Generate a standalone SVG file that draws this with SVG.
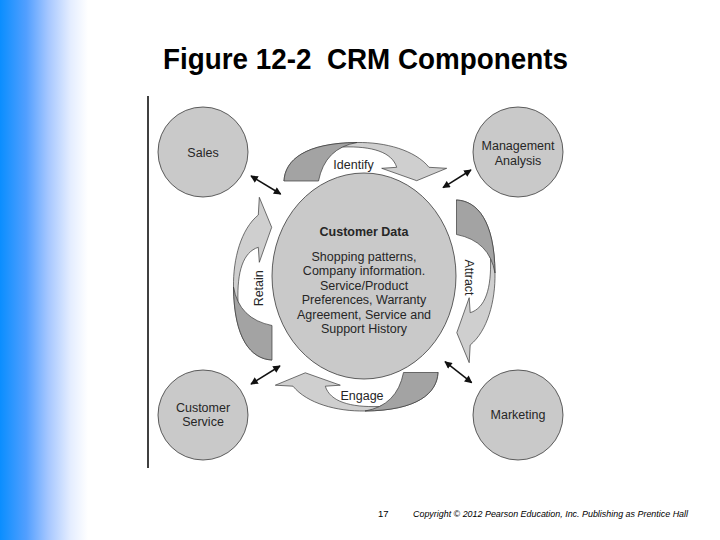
<svg xmlns="http://www.w3.org/2000/svg" xmlns:xlink="http://www.w3.org/1999/xlink" width="720" height="540" viewBox="0 0 720 540">
<style>
.node{fill:#c9c9c9;stroke:#3a3a3a;stroke-width:0.8}
.lbl{font-family:"Liberation Sans",Arial,sans-serif;font-size:12.5px;fill:#262626;text-anchor:middle}
.light{fill:#cfcfcf;stroke:#3a3a3a;stroke-width:0.7;stroke-linejoin:round}
.dark{fill:#a3a3a3;stroke:#3a3a3a;stroke-width:0.7;stroke-linejoin:round}
.dbl{stroke:#111;stroke-width:1.5;fill:none;marker-start:url(#ah);marker-end:url(#ah)}
</style>
<defs>
<linearGradient id="bar" gradientUnits="userSpaceOnUse" x1="0" y1="0" x2="88" y2="0">
<stop offset="0" stop-color="#0a8eff"/>
<stop offset="0.3" stop-color="#529fff"/>
<stop offset="0.55" stop-color="#a6c7ff"/>
<stop offset="0.8" stop-color="#e4edff"/>
<stop offset="1" stop-color="#ffffff"/>
</linearGradient>
<marker id="ah" viewBox="0 0 10 10" refX="9" refY="5" markerWidth="5.5" markerHeight="5" orient="auto-start-reverse">
<path d="M0,0 L10,5 L0,10 z" fill="#111"/>
</marker>
<g id="curved">
<path class="light" d="M284,181 C285,160 305,143 357,142.5 C385,142 415,150 429,167.3 L446.7,168.3 L416.7,180.7 L381.7,168.3 L396.7,167.3 C392,152 372,146 342.6,147 L300,160 Z"/>
<path class="dark" d="M284,181 C285,160 305,143 357,142.5 Q325,148 318.5,181 Z"/>
</g>
</defs>
<rect x="0" y="0" width="720" height="540" fill="#ffffff"/>
<rect x="0" y="0" width="90" height="540" fill="url(#bar)"/>
<text x="365.5" y="69" font-family="Liberation Sans,Arial,sans-serif" font-size="29" font-weight="bold" fill="#000" text-anchor="middle" textLength="405" lengthAdjust="spacingAndGlyphs">Figure 12-2&#160; CRM Components</text>
<line x1="148" y1="96" x2="148" y2="468" stroke="#000" stroke-width="1.5"/>
<g id="connectors">
<use xlink:href="#curved" href="#curved"/>
<use xlink:href="#curved" href="#curved" transform="translate(-2.5,4) rotate(90 364 276)"/>
<use xlink:href="#curved" href="#curved" transform="translate(-6,1.5) rotate(180 364 276)"/>
<use xlink:href="#curved" href="#curved" transform="translate(3,4) rotate(270 364 276)"/>
<line class="dbl" x1="251" y1="176" x2="280.7" y2="194"/>
<line class="dbl" x1="471" y1="170" x2="443" y2="187.7"/>
<line class="dbl" x1="251" y1="384" x2="280" y2="366"/>
<line class="dbl" x1="445" y1="361.7" x2="471.7" y2="382.7"/>
<text class="lbl" x="353.5" y="169.3">Identify</text>
<text class="lbl" x="362" y="399.5">Engage</text>
<text class="lbl" transform="translate(262.5,288.3) rotate(-90)">Retain</text>
<text class="lbl" transform="translate(465,277.5) rotate(90)">Attract</text>
</g>
<g id="sales">
<circle class="node" cx="203" cy="152" r="45"/>
<text class="lbl" x="203" y="156.5">Sales</text>
</g>
<g id="management-analysis">
<circle class="node" cx="518" cy="152" r="45"/>
<text class="lbl" x="518" y="149.5">Management</text>
<text class="lbl" x="518" y="164.5">Analysis</text>
</g>
<g id="customer-service">
<circle class="node" cx="203" cy="415" r="45"/>
<text class="lbl" x="203" y="412">Customer</text>
<text class="lbl" x="203" y="426">Service</text>
</g>
<g id="marketing">
<circle class="node" cx="518" cy="415" r="45"/>
<text class="lbl" x="518" y="419">Marketing</text>
</g>
<g id="customer-data">
<ellipse class="node" cx="364" cy="276" rx="92" ry="103"/>
<text class="lbl" x="364" y="236" font-weight="bold">Customer Data</text>
<text class="lbl" x="364" y="260.5">Shopping patterns,</text>
<text class="lbl" x="364" y="275">Company information.</text>
<text class="lbl" x="364" y="289.5">Service/Product</text>
<text class="lbl" x="364" y="304">Preferences, Warranty</text>
<text class="lbl" x="364" y="318.5">Agreement, Service and</text>
<text class="lbl" x="364" y="333">Support History</text>
</g>
<text x="378" y="517" font-family="Liberation Sans,Arial,sans-serif" font-size="9.5" fill="#000">17</text>
<text x="413" y="517" font-family="Liberation Sans,Arial,sans-serif" font-size="9.5" font-style="italic" fill="#000" textLength="275" lengthAdjust="spacingAndGlyphs">Copyright © 2012 Pearson Education, Inc. Publishing as Prentice Hall</text>
</svg>
